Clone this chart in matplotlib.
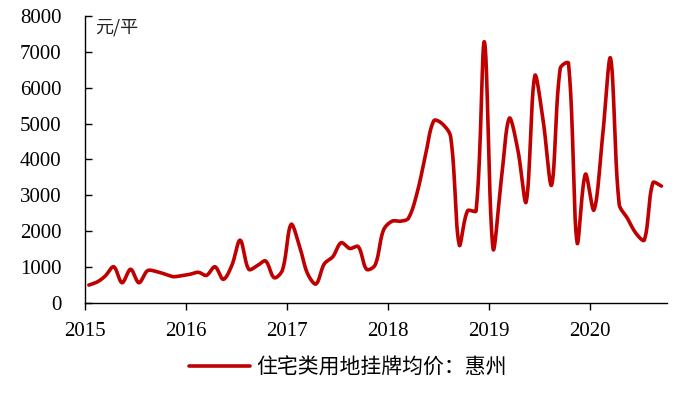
import matplotlib
matplotlib.use('Agg')
import matplotlib.pyplot as plt
import matplotlib.dates as mdates
import pandas as pd
import numpy as np

# monthly listing price, Jan 2015 - Sep 2020 (元/平)
months = pd.date_range('2015-01-01', periods=69, freq='MS') + pd.Timedelta(days=14)
price = [500, 590, 750, 1010, 565, 940, 565, 900, 880, 810, 735, 760,
         800, 855, 770, 1010, 660, 1050, 1750, 940, 1040, 1170, 705, 920,
         2190, 1570, 830, 530, 1090, 1290, 1680, 1520, 1570, 940, 1060, 2030,
         2280, 2280, 2360, 3050, 4080, 5080, 5000, 4630, 1620, 2570, 2570, 7280,
         1520, 3500, 5150, 4260, 2820, 6330, 5100, 3290, 6540, 6680, 1680, 3590,
         2590, 4630, 6820, 2760, 2360, 1940, 1755, 3350, 3260]
series_name = '住宅类用地挂牌均价：惠州'
unit = '元/平'


def smooth(pts, n=24):
    # excel-like smoothed line: bezier with tangents scaled by segment length
    p = np.vstack([pts[0], pts, pts[-1]])
    t = np.linspace(0, 1, n, endpoint=False)[:, None]
    out = []
    for i in range(1, len(p) - 2):
        p0, p1, p2, p3 = p[i - 1], p[i], p[i + 1], p[i + 2]
        d01 = np.hypot(*(p1 - p0))
        d12 = np.hypot(*(p2 - p1))
        d23 = np.hypot(*(p3 - p2))
        a = d12 / (3 * (d01 + d12)) if d01 + d12 > 0 else 0
        b = d12 / (3 * (d12 + d23)) if d12 + d23 > 0 else 0
        c1 = p1 + (p2 - p0) * a
        c2 = p2 - (p3 - p1) * b
        seg = ((1 - t) ** 3) * p1 + 3 * ((1 - t) ** 2) * t * c1 \
            + 3 * (1 - t) * t ** 2 * c2 + t ** 3 * p2
        out.append(seg)
    out.append(pts[-1][None, :])
    return np.vstack(out)


plt.rcParams['font.family'] = ['Liberation Serif', 'Noto Sans CJK SC']

fig = plt.figure(figsize=(6.82, 3.97), dpi=100)
ax = fig.add_axes([0.1246, 0.2368, 0.8534, 0.7229])

ax.set_ylim(0, 8000)
ax.set_yticks(range(0, 8001, 1000))
ax.set_xlim(mdates.date2num(pd.Timestamp('2015-01-01')),
            mdates.date2num(pd.Timestamp('2020-10-05')))
ax.xaxis.set_major_locator(mdates.YearLocator())
ax.xaxis.set_major_formatter(mdates.DateFormatter('%Y'))

# smooth in screen space so the curve looks like the office chart
xy = np.column_stack([mdates.date2num(months), price])
pix = ax.transData.transform(xy)
curve = ax.transData.inverted().transform(smooth(pix))
ax.plot(curve[:, 0], curve[:, 1], color='#C00000', lw=2.6, label=series_name,
        solid_capstyle='round', solid_joinstyle='round')

for s in ['top', 'right']:
    ax.spines[s].set_visible(False)
for s in ['left', 'bottom']:
    ax.spines[s].set_linewidth(1.0)
    ax.spines[s].set_color('black')

ax.tick_params(axis='y', direction='in', length=5, width=1, labelsize=15, pad=17)
ax.tick_params(axis='x', direction='out', length=5, width=1, labelsize=15, pad=9)

ax.text(0.017, 0.99, unit, transform=ax.transAxes, ha='left', va='top',
        fontsize=13, family=['Noto Sans CJK SC', 'DejaVu Sans'], color='#222222')

leg = fig.legend(loc='lower center', bbox_to_anchor=(0.51, 0.0), frameon=False,
                 prop={'family': ['Noto Sans CJK SC', 'DejaVu Sans'], 'size': 15},
                 handlelength=2.9, handletextpad=0.3)

fig.savefig('out.png', dpi=100)
